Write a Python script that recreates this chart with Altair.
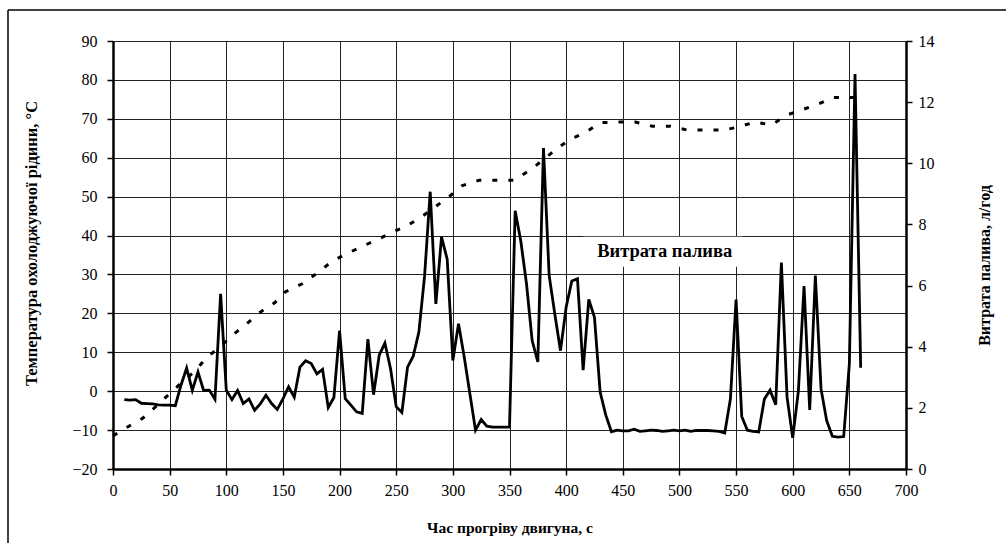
import altair as alt
import pandas as pd

# Fuel consumption (right axis, l/h)
fuel_time = [10, 15, 20, 25, 30, 35, 40, 45, 50, 55,
             60, 65, 70, 75, 80, 85, 90, 95, 100, 105,
             110, 115, 120, 125, 130, 135, 140, 145, 150, 155,
             160, 165, 170, 175, 180, 185, 190, 195, 200, 205,
             210, 215, 220, 225, 230, 235, 240, 245, 250, 255,
             260, 265, 270, 275, 280, 285, 290, 295, 300, 305,
             310, 315, 320, 325, 330, 335, 340, 345, 350, 355,
             360, 365, 370, 375, 380, 385, 390, 395, 400, 405,
             410, 415, 420, 425, 430, 435, 440, 445, 450, 455,
             460, 465, 470, 475, 480, 485, 490, 495, 500, 505,
             510, 515, 520, 525, 530, 535, 540, 545, 550, 555,
             560, 565, 570, 575, 580, 585, 590, 595, 600, 605,
             610, 615, 620, 625, 630, 635, 640, 645, 650, 655,
             660]
fuel_value = [2.27, 2.25, 2.27, 2.15, 2.14, 2.13, 2.10, 2.09, 2.09, 2.07,
              2.74, 3.30, 2.57, 3.17, 2.57, 2.58, 2.28, 5.73, 2.58, 2.27,
              2.57, 2.14, 2.29, 1.92, 2.13, 2.41, 2.14, 1.95, 2.29, 2.69,
              2.35, 3.33, 3.54, 3.45, 3.11, 3.26, 2.01, 2.34, 4.53, 2.30,
              2.09, 1.87, 1.82, 4.25, 2.43, 3.72, 4.12, 3.28, 2.04, 1.85,
              3.33, 3.69, 4.48, 6.29, 9.07, 5.40, 7.59, 6.86, 3.55, 4.75,
              3.67, 2.47, 1.27, 1.62, 1.40, 1.37, 1.37, 1.37, 1.37, 8.45,
              7.45, 6.06, 4.20, 3.50, 10.50, 6.33, 5.07, 3.87, 5.29, 6.15,
              6.22, 3.23, 5.55, 4.96, 2.52, 1.76, 1.22, 1.27, 1.25, 1.25,
              1.30, 1.23, 1.25, 1.27, 1.26, 1.23, 1.25, 1.27, 1.25, 1.27,
              1.23, 1.26, 1.26, 1.26, 1.25, 1.23, 1.18, 2.29, 5.54, 1.72,
              1.27, 1.23, 1.21, 2.29, 2.58, 2.10, 6.75, 2.35, 1.02, 2.55,
              5.98, 1.93, 6.33, 2.62, 1.58, 1.07, 1.04, 1.06, 3.44, 12.92,
              3.31]

# Coolant temperature (left axis, °C)
temp_time = [0, 14, 26, 38, 49, 61, 73, 82, 95, 105, 117, 130, 143, 152, 167,
             180, 193, 206, 220, 235, 248, 260, 272, 283, 296, 308, 323, 339,
             354, 368, 380, 392, 404, 417, 430, 446, 461, 476, 492, 507, 522,
             539, 552, 567, 581, 595, 608, 622, 636, 651, 655]
temp_value = [-11.5, -9.0, -7.0, -3.9, -0.9, 2.3, 5.3, 8.5, 11.5, 14.3, 17.1,
              20.3, 22.8, 25.5, 27.6, 30.3, 33.3, 35.3, 37.2, 39.2, 41.0, 42.6,
              44.7, 47.1, 49.8, 52.8, 54.2, 54.2, 54.2, 56.8, 59.5, 62.4, 64.8,
              66.5, 69.0, 69.2, 69.2, 68.1, 68.1, 67.1, 67.1, 67.1, 67.9, 69.2,
              68.4, 71.0, 72.3, 73.7, 75.5, 75.5, 75.5]

x_ticks = [0, 50, 100, 150, 200, 250, 300, 350, 400, 450, 500, 550, 600, 650, 700]
t_ticks = [-20, -10, 0, 10, 20, 30, 40, 50, 60, 70, 80, 90]
f_ticks = [0, 2, 4, 6, 8, 10, 12, 14]

label_text = ["Витрата палива"]
label_x = [487]
label_t = [36.0]
box_x = [415]
box_x2 = [556]
box_t = [32.0]
box_t2 = [39.7]

SERIF = "Liberation Serif"
W, H = 793, 428

fuel_df = pd.DataFrame({"t": fuel_time, "f": fuel_value})
temp_df = pd.DataFrame({"t": temp_time, "T": temp_value})
lab_df = pd.DataFrame({"x": label_x, "T": label_t, "txt": label_text})
box_df = pd.DataFrame({"x": box_x, "x2": box_x2, "T": box_t, "T2": box_t2})

x_scale = alt.Scale(domain=[0, 700], nice=False, zero=False)
t_scale = alt.Scale(domain=[-20, 90], nice=False, zero=False)
f_scale = alt.Scale(domain=[0, 14], nice=False)

common = dict(
    domainColor="black", domainWidth=2.5, tickColor="black", tickSize=6,
    tickWidth=1.5, labelFont=SERIF, labelFontSize=16, labelColor="black",
    labelOverlap=False, labelFlush=False,
    titleFont=SERIF, titleFontWeight="bold", titleColor="black",
)

x_axis = alt.Axis(
    values=x_ticks, title="Час прогріву двигуна, с", grid=True,
    gridColor="#222", gridWidth=1, gridOpacity=1,
    labelPadding=7, titlePadding=22, titleFontSize=15.5, **common,
)
t_axis = alt.Axis(
    values=t_ticks, title="Температура охолоджуючої рідини, °C", grid=True,
    gridColor="#222", gridWidth=1, gridOpacity=1,
    labelPadding=10, titlePadding=32, titleFontSize=16.5, titleY=202, **common,
)
f_axis = alt.Axis(
    values=f_ticks, title="Витрата палива, л/год", orient="right", grid=False,
    labelPadding=6, titlePadding=58, titleAngle=270, titleFontSize=16,
    titleY=224, **common,
)

box = alt.Chart(box_df).mark_rect(fill="white", stroke=None).encode(
    x=alt.X("x:Q", scale=x_scale, axis=x_axis),
    x2="x2:Q",
    y=alt.Y("T:Q", scale=t_scale, axis=t_axis),
    y2="T2:Q",
)

temp_line = alt.Chart(temp_df).mark_line(
    color="black", strokeWidth=3, strokeDash=[5, 11], strokeCap="butt"
).encode(
    x=alt.X("t:Q", scale=x_scale, axis=x_axis),
    y=alt.Y("T:Q", scale=t_scale, axis=t_axis),
)

label = alt.Chart(lab_df).mark_text(
    font=SERIF, fontSize=18.5, fontWeight="bold", color="black",
    align="center", baseline="middle",
).encode(
    x=alt.X("x:Q", scale=x_scale, axis=x_axis),
    y=alt.Y("T:Q", scale=t_scale, axis=t_axis),
    text="txt:N",
)

left = alt.layer(box, temp_line, label)

fuel_line = alt.Chart(fuel_df).mark_line(
    color="black", strokeWidth=2.8, strokeJoin="miter"
).encode(
    x=alt.X("t:Q", scale=x_scale, axis=x_axis),
    y=alt.Y("f:Q", scale=f_scale, axis=f_axis),
)

frame_left = alt.Chart(box_df).mark_rule(color="black", strokeWidth=1.5).encode(
    x=alt.value(-105), y=alt.value(-31), y2=alt.value(H + 80)
)
frame_top = alt.Chart(box_df).mark_rule(color="black", strokeWidth=1.5).encode(
    x=alt.value(-105), x2=alt.value(W + 110), y=alt.value(-31)
)

chart = alt.layer(left, fuel_line, frame_left, frame_top).resolve_scale(
    y="independent"
).properties(
    width=W, height=H,
    autosize=alt.AutoSizeParams(type="none"),
    padding={"left": 113, "top": 41, "right": 100, "bottom": 74},
    background="white",
).configure(font=SERIF).configure_view(stroke=None)

chart.save("out.html", embed_options={"renderer": "svg", "actions": False})
